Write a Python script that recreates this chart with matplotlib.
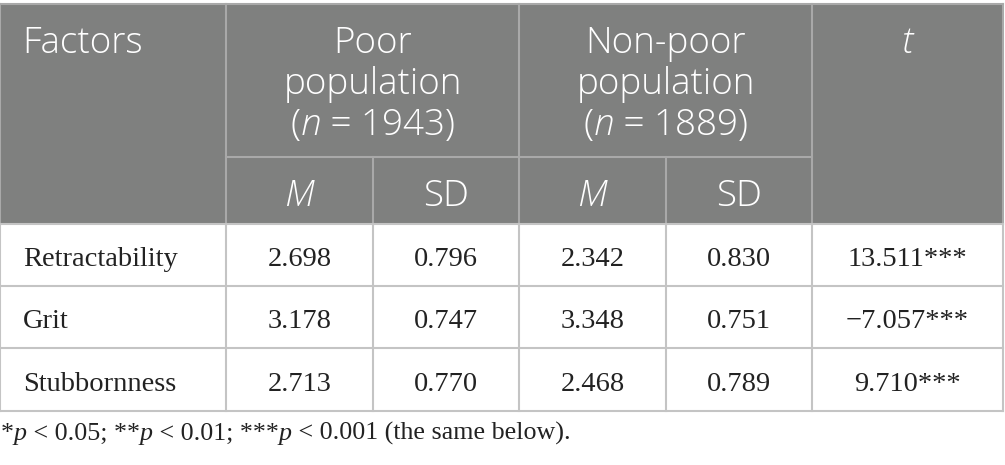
import matplotlib
matplotlib.use("Agg")
import matplotlib.pyplot as plt
from matplotlib.patches import Rectangle

# table content
factors = ["Retractability", "Grit", "Stubbornness"]
poor_m = ["2.698", "3.178", "2.713"]
poor_sd = ["0.796", "0.747", "0.770"]
nonpoor_m = ["2.342", "3.348", "2.468"]
nonpoor_sd = ["0.830", "0.751", "0.789"]
t_vals = ["13.511***", "\u22127.057***", "9.710***"]

poor_n = "1943"
nonpoor_n = "1889"
footnote = [("*", "n"), ("p", "i"), (" < 0.05; **", "n"), ("p", "i"),
            (" < 0.01; ***", "n"), ("p", "i"), (" < 0.001 (the same below).", "n")]

# layout in pixels
W, H = 1005, 465
col_x = [0, 226, 373, 519, 666, 812, 1003]
top, sub, head_bot = 4, 157, 224
row_y = [224, 286, 348, 411]
head_fill = "#7f807f"
head_line = "#a9a9a9"
body_line = "#c4c4c4"

sans = "Open Sans"
serif = "Liberation Serif"
hfs = 26.5
bfs = 20.5
ffs = 18.7
ink = "#222222"

fig = plt.figure(figsize=(W / 100, H / 100), dpi=100)
ax = fig.add_axes([0, 0, 1, 1])
ax.set_xlim(0, W)
ax.set_ylim(H, 0)
ax.axis("off")

# header background
ax.add_patch(Rectangle((col_x[0], top), col_x[-1] - col_x[0], head_bot - top,
                       facecolor=head_fill, edgecolor="none"))

# header lines
lw = 1.5
ax.plot([col_x[0], col_x[-1]], [top, top], color=head_line, lw=lw)
ax.plot([col_x[1], col_x[5]], [sub, sub], color=head_line, lw=lw)
for x in [col_x[0], col_x[1], col_x[3], col_x[5], col_x[-1]]:
    ax.plot([x, x], [top, head_bot], color=head_line, lw=lw)
for x in [col_x[2], col_x[4]]:
    ax.plot([x, x], [sub, head_bot], color=head_line, lw=lw)

# body lines
for y in row_y:
    ax.plot([col_x[0], col_x[-1]], [y, y], color=body_line, lw=lw)
for x in col_x:
    ax.plot([x, x], [row_y[0], row_y[-1]], color=body_line, lw=lw)

fig.canvas.draw()
renderer = fig.canvas.get_renderer()


def runs(x, y, parts, family, size, color, ha="center", weight="normal"):
    # draw text made of plain / italic pieces, aligned as a whole
    arts = []
    for s, st in parts:
        t = ax.text(0, y, s, family=family, fontsize=size, color=color,
                    fontstyle="italic" if st == "i" else "normal",
                    fontweight=weight, va="baseline", ha="left")
        arts.append(t)
    widths = [t.get_window_extent(renderer).width for t in arts]
    total = sum(widths)
    x0 = x - total / 2 if ha == "center" else x
    for t, w in zip(arts, widths):
        t.set_x(x0)
        x0 += w


# header text
white = "white"
hw = "light"
runs(22, 53, [("Factors", "n")], sans, hfs, white, ha="left", weight=hw)
for c0, c1, word, n in [(1, 3, "Poor", poor_n), (3, 5, "Non-poor", nonpoor_n)]:
    xc = (col_x[c0] + col_x[c1]) / 2
    runs(xc, 53, [(word, "n")], sans, hfs, white, weight=hw)
    runs(xc, 94, [("population", "n")], sans, hfs, white, weight=hw)
    runs(xc, 135, [("(", "n"), ("n", "i"), (" = " + n + ")", "n")], sans, hfs, white, weight=hw)
runs((col_x[5] + col_x[6]) / 2, 53, [("t", "i")], sans, hfs, white, weight=hw)
for c, lab, st in [(1, "M", "i"), (2, "SD", "n"), (3, "M", "i"), (4, "SD", "n")]:
    runs((col_x[c] + col_x[c + 1]) / 2, 206, [(lab, st)], sans, hfs, white, weight=hw)

# body text
cols = [poor_m, poor_sd, nonpoor_m, nonpoor_sd, t_vals]
for i, f in enumerate(factors):
    yb = (row_y[i] + row_y[i + 1]) / 2 + 11
    ax.text(23, yb, f, family=serif, fontsize=bfs, color=ink, va="baseline", ha="left")
    for j, col in enumerate(cols):
        xc = (col_x[j + 1] + col_x[j + 2]) / 2
        ax.text(xc, yb, col[i], family=serif, fontsize=bfs, color=ink,
                va="baseline", ha="center")

# footnote
runs(1, 440, footnote, serif, ffs, ink, ha="left")

fig.savefig("out.png", dpi=100, facecolor="white")
